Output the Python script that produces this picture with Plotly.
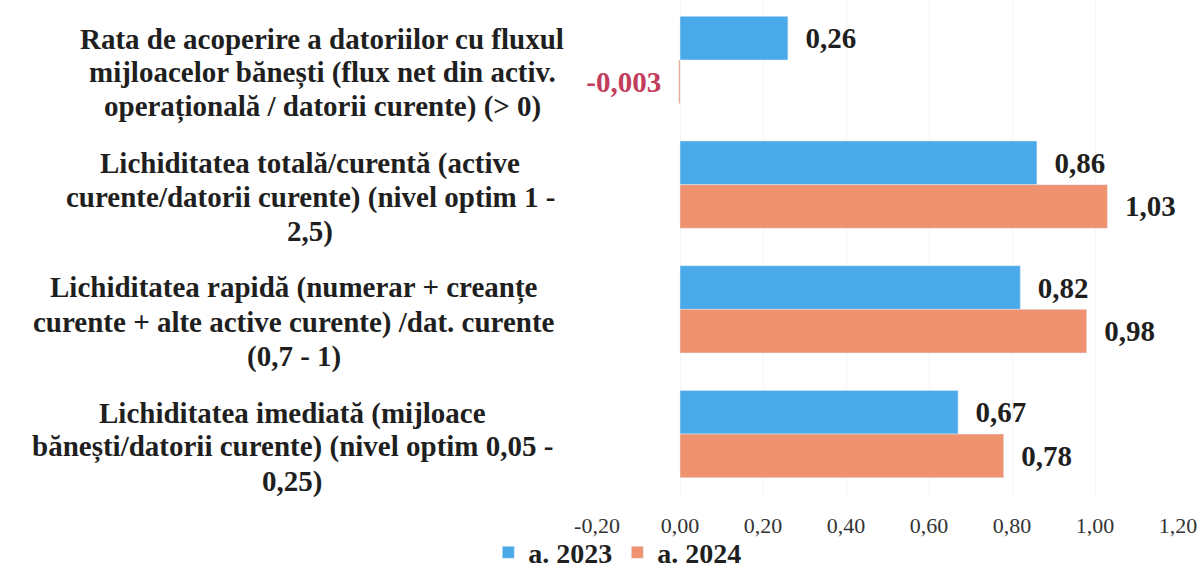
import plotly.graph_objects as go

# indicator names (top to bottom), one entry per text line
categories = [
    ["Rata de acoperire a datoriilor cu fluxul",
     "mijloacelor bănești (flux net din activ.",
     "operațională / datorii curente) (> 0)"],
    ["Lichiditatea totală/curentă (active",
     "curente/datorii curente) (nivel optim 1 -",
     "2,5)"],
    ["Lichiditatea rapidă (numerar + creanțe",
     "curente + alte active curente) /dat. curente",
     "(0,7 - 1)"],
    ["Lichiditatea imediată (mijloace",
     "bănești/datorii curente) (nivel optim 0,05 -",
     "0,25)"],
]
cat_ids = ["c1", "c2", "c3", "c4"]
vals_2023 = [0.26, 0.86, 0.82, 0.67]
vals_2024 = [-0.003, 1.03, 0.98, 0.78]
tick_vals = [-0.2, 0.0, 0.2, 0.4, 0.6, 0.8, 1.0, 1.2]
tick_text = ["-0,20", "0,00", "0,20", "0,40", "0,60", "0,80", "1,00", "1,20"]

FONT = "Liberation Serif"
DARK = "#1f1f1f"
BLUE = "#4aa9e9"
ORANGE = "#ee9270"
NEG = "#c23c5c"
PAD = "\u00a0\u00a0"

# plot area in figure pixels
L, R, W = 597, 23, 1201
PW = W - L - R
# horizontal centre of each label block (px)
label_cx = [322, 310, 294, 292]


def fmt(v):
    s = str(v).replace(".", ",")
    return s + PAD if v < 0 else PAD + s


fig = go.Figure()
fig.add_trace(go.Bar(
    y=cat_ids, x=vals_2023, orientation="h", name="a. 2023",
    marker=dict(color=BLUE),
    text=[fmt(v) for v in vals_2023], textposition="outside",
    textfont=dict(family=FONT, size=29, color=DARK, weight="bold"),
    cliponaxis=False,
))
fig.add_trace(go.Bar(
    y=cat_ids, x=vals_2024, orientation="h", name="a. 2024",
    marker=dict(color=ORANGE),
    text=[fmt(v) for v in vals_2024], textposition="outside",
    textfont=dict(family=FONT, size=29, weight="bold",
                  color=[NEG if v < 0 else DARK for v in vals_2024]),
    cliponaxis=False,
))

# category labels, line by line, centred
for cid, lines, cx in zip(cat_ids, categories, label_cx):
    for i, line in enumerate(lines):
        fig.add_annotation(
            x=(cx - L) / PW, xref="paper", y=cid, yref="y",
            text=line, showarrow=False,
            xanchor="center", yanchor="middle",
            yshift=-13 + (1 - i) * 34,
            font=dict(family=FONT, size=29, color=DARK, weight="bold"),
        )

fig.update_layout(
    width=W, height=568,
    margin=dict(l=L, r=R, t=0, b=72),
    paper_bgcolor="white", plot_bgcolor="white",
    barmode="group", bargap=0.3, bargroupgap=0,
    showlegend=True,
    legend=dict(
        orientation="h", xref="container", yref="container",
        x=0.514, xanchor="center", y=0.027, yanchor="middle",
        font=dict(family=FONT, size=28, color=DARK, weight="bold"),
        itemwidth=30, traceorder="normal", bgcolor="rgba(0,0,0,0)",
    ),
    font=dict(family=FONT, color=DARK),
)
fig.update_xaxes(
    range=[-0.2, 1.2], tickvals=tick_vals, ticktext=tick_text,
    showgrid=True, gridcolor="#f4f4f4", zeroline=False,
    tickfont=dict(family=FONT, size=22, color="#333333"),
    ticks="", showline=False, ticklabelstandoff=14, automargin=False,
)
fig.update_yaxes(
    range=[3.497, -0.481], showticklabels=False, showgrid=False,
    zeroline=False, ticks="", automargin=False,
)

# page body has a default 8px margin; drop it so the figure fills the window
fig.write_html("out.html", config={"displayModeBar": False},
               post_script="document.body.style.margin='0px';")
